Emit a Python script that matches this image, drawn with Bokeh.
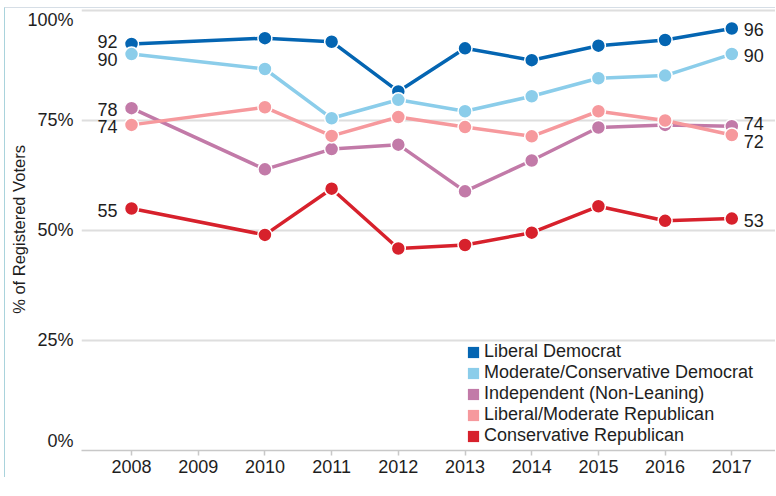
import math
from bokeh.plotting import figure
from bokeh.models import (Range1d, Legend, LegendItem, LabelSet,
                          ColumnDataSource, FixedTicker, CustomJSTickFormatter)
from bokeh.core.properties import value
from bokeh.embed import file_html
from bokeh.resources import INLINE

# ---------------- data ----------------
years = [2008, 2010, 2011, 2012, 2013, 2014, 2015, 2016, 2017]
liberal_democrat = [92.4, 93.7, 92.9, 81.6, 91.4, 88.7, 92.0, 93.3, 95.9]
moderate_conservative_democrat = [90.1, 86.7, 75.5, 79.7, 77.1, 80.5, 84.6, 85.2, 90.1]
independent_non_leaning = [77.8, 63.9, 68.5, 69.5, 58.9, 65.9, 73.4, 74.0, 73.7]
liberal_moderate_republican = [74.0, 78.0, 71.5, 75.8, 73.5, 71.4, 77.1, 75.0, 71.7]
conservative_republican = [55.0, 49.0, 59.5, 45.9, 46.7, 49.5, 55.5, 52.2, 52.7]

series_names = ["Liberal Democrat", "Moderate/Conservative Democrat",
                "Independent (Non-Leaning)", "Liberal/Moderate Republican",
                "Conservative Republican"]
series_values = [liberal_democrat, moderate_conservative_democrat,
                 independent_non_leaning, liberal_moderate_republican,
                 conservative_republican]

x_ticks = [2008, 2009, 2010, 2011, 2012, 2013, 2014, 2015, 2016, 2017]
y_ticks = [0, 25, 50, 75, 100]
y_tick_labels = ["0%", "25%", "50%", "75%", "100%"]
y_title = "% of Registered Voters"

# ---------------- styles ----------------
colors = ["#0465b2", "#8bcdea", "#c27aa8", "#f6999d", "#d7212c"]
FONT = "Liberation Sans"
TXT = "#1e1e1e"
# vertical nudges (px) for end labels, to avoid overlaps
left_nudge = [2, -5, -1, -2, -2]
right_nudge = [-1, -1, 3, -6, -2]
# the outermost y tick labels are pulled inward (px)
y_tick_nudge_px = [9.5, 0, 0, 0, -9.5]

W, H = 771, 470
FRAME_H = 442
Y_END = 100.45
px_per_unit = FRAME_H / Y_END

p = figure(width=W, height=H, output_backend="svg", toolbar_location=None,
           x_range=Range1d(2007.25, 2017.67), y_range=Range1d(0, Y_END),
           min_border_left=76, min_border_right=0, min_border_top=0,
           min_border_bottom=H - FRAME_H)
p.styles = {"margin-left": "4px", "margin-top": "7px",
            "border-left": "1px solid #a9d3dc", "border-top": "1px solid #d6dee6"}
p.outline_line_color = None
p.background_fill_color = "white"
p.border_fill_color = "white"

# grid
p.xgrid.visible = False
p.ygrid.ticker = FixedTicker(ticks=y_ticks)
p.ygrid.grid_line_color = "#dedede"
p.ygrid.grid_line_width = 2

# y axis: labels only (no line / ticks)
label_pos = [t + n / px_per_unit for t, n in zip(y_ticks, y_tick_nudge_px)]
p.yaxis.ticker = FixedTicker(ticks=label_pos)
p.yaxis.formatter = CustomJSTickFormatter(args=dict(labels=y_tick_labels),
                                          code="return labels[index]")
p.yaxis.axis_line_color = None
p.yaxis.major_tick_line_color = None
p.yaxis.minor_tick_line_color = None
p.yaxis.major_tick_in = 0
p.yaxis.major_tick_out = 0
p.yaxis.major_label_standoff = 8
p.yaxis.major_label_text_font = FONT
p.yaxis.major_label_text_font_size = "18px"
p.yaxis.major_label_text_color = TXT
p.yaxis.axis_label = y_title
p.yaxis.axis_label_text_font = FONT
p.yaxis.axis_label_text_font_size = "16.5px"
p.yaxis.axis_label_text_font_style = "normal"
p.yaxis.axis_label_text_color = TXT
p.yaxis.axis_label_standoff = -4

# x axis
p.xaxis.ticker = FixedTicker(ticks=x_ticks)
p.xaxis.axis_line_color = "#c8c8c8"
p.xaxis.axis_line_width = 1.5
p.xaxis.major_tick_line_color = "#c8c8c8"
p.xaxis.major_tick_line_width = 1.5
p.xaxis.major_tick_in = 0
p.xaxis.major_tick_out = 5
p.xaxis.minor_tick_line_color = None
p.xaxis.major_label_text_font = FONT
p.xaxis.major_label_text_font_size = "18px"
p.xaxis.major_label_text_color = TXT
p.xaxis.major_label_standoff = 4

# series
legend_items = []
for name, vals, c in zip(series_names, series_values, colors):
    p.line(years, vals, line_color=c, line_width=3.5)
    p.scatter(years, vals, size=14, fill_color=c, line_color="white",
              line_width=1.5)
    # swatch-only renderer (zero-height, below the visible range) for the legend
    q = p.quad(left=[years[0]], right=[years[0]], top=[-10], bottom=[-10],
               fill_color=c, line_color=None)
    legend_items.append(LegendItem(label=name, renderers=[q]))

# end labels
lsrc = ColumnDataSource(dict(x=[years[0]] * 5, y=[v[0] for v in series_values],
                             text=[str(round(v[0])) for v in series_values],
                             dy=left_nudge))
rsrc = ColumnDataSource(dict(x=[years[-1]] * 5, y=[v[-1] for v in series_values],
                             text=[str(round(v[-1])) for v in series_values],
                             dy=right_nudge))
p.add_layout(LabelSet(x="x", y="y", text="text", source=lsrc, x_offset=-14,
                      y_offset="dy", text_align="right", text_baseline="middle",
                      text_font=value(FONT), text_font_size="18px", text_color=TXT))
p.add_layout(LabelSet(x="x", y="y", text="text", source=rsrc, x_offset=12,
                      y_offset="dy", text_align="left", text_baseline="middle",
                      text_font=value(FONT), text_font_size="18px", text_color=TXT))

legend = Legend(items=legend_items, location=(385, 4), orientation="vertical",
                padding=0, margin=0, spacing=0, glyph_width=14, glyph_height=14,
                label_standoff=4, label_text_font=FONT,
                label_text_font_size="18px", label_text_color=TXT,
                label_height=14, border_line_color=None,
                background_fill_alpha=0)
p.add_layout(legend)

open("out.html", "w").write(file_html(p, INLINE))
